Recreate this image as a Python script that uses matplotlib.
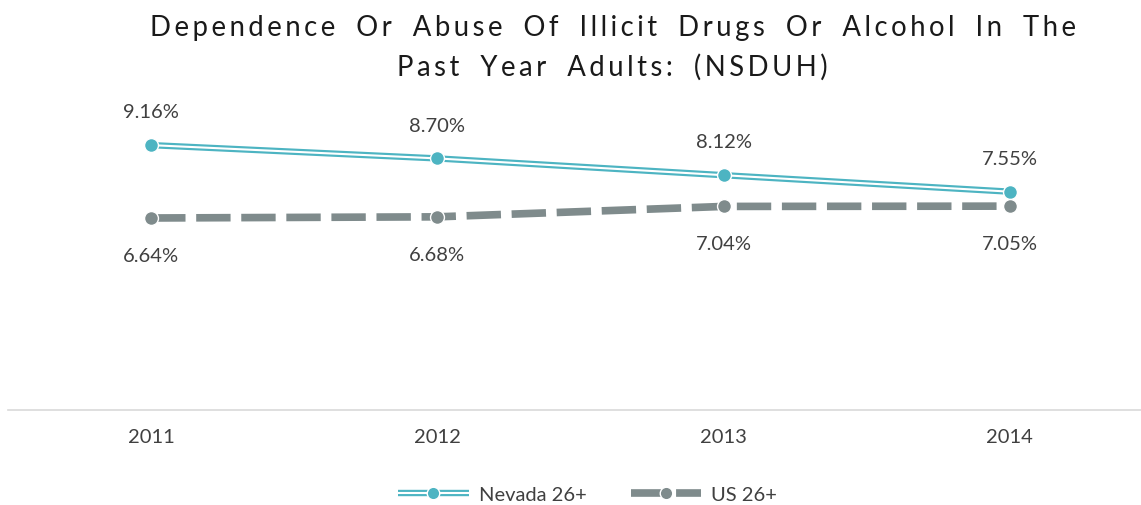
import matplotlib.pyplot as plt
from matplotlib.lines import Line2D

years = [2011, 2012, 2013, 2014]
nevada = [9.16, 8.70, 8.12, 7.55]
us = [6.64, 6.68, 7.04, 7.05]
series_names = ['Nevada 26+', 'US 26+']
title = 'Dependence Or Abuse Of Illicit Drugs Or Alcohol In The\nPast Year Adults: (NSDUH)'

teal = '#4DB4C2'
gray = '#7F8B8C'
txt = '#404040'

plt.rcParams['font.family'] = ['Lato', 'DejaVu Sans']

fig = plt.figure(figsize=(11.41, 5.06), dpi=100)
ax = fig.add_axes([8 / 1141, 95 / 506, 1133 / 1141, 347 / 506])

# double line for Nevada: thick teal with a white stripe in the middle
ax.plot(years, nevada, color=teal, lw=4.6, solid_capstyle='butt', zorder=3)
ax.plot(years, nevada, color='white', lw=1.5, solid_capstyle='butt', zorder=4)
ax.plot(years, nevada, 'o', color=teal, ms=10, mec='white', mew=1, zorder=5)

ax.plot(years, us, color=gray, lw=5.5, dashes=(4.5, 1.4), dash_capstyle='butt', zorder=2)
ax.plot(years, us, 'o', color=gray, ms=10, mec='white', mew=1, zorder=5)

for x, v in zip(years, nevada):
    ax.annotate(f'{v:.2f}%', (x, v), xytext=(0, 24), textcoords='offset points',
                ha='center', va='center', fontsize=14.5, color=txt)
for x, v in zip(years, us):
    ax.annotate(f'{v:.2f}%', (x, v), xytext=(0, -27), textcoords='offset points',
                ha='center', va='center', fontsize=14.5, color=txt)

ax.set_xlim(2010.5, 2014.458)
ax.set_ylim(0, 12)
ax.set_yticks([])
ax.set_xticks(years)
ax.set_xticklabels([str(y) for y in years], fontsize=14.5, color=txt)
ax.tick_params(axis='x', length=0, pad=13)
for s in ['top', 'right', 'left']:
    ax.spines[s].set_visible(False)
ax.spines['bottom'].set_color('#D9D9D9')
ax.spines['bottom'].set_linewidth(1.2)

spaced = '\n'.join('\u2009'.join(line).replace('\u2009 \u2009', '\u2009\u2009 \u2009\u2009')
                   for line in title.split('\n'))
fig.text(0.537, 0.905, spaced, ha='center', va='center', fontsize=19.8,
         color='#1a1a1a', linespacing=1.58)

h_nv = (Line2D([], [], color=teal, lw=4.6, solid_capstyle='butt'),
        Line2D([], [], color='white', lw=1.5),
        Line2D([], [], marker='o', color=teal, ms=9, mec='white', lw=0))
h_us = (Line2D([], [], color=gray, lw=5.5, dashes=(4.5, 1.4), dash_capstyle='butt'),
        Line2D([], [], marker='o', color=gray, ms=9, mec='white', lw=0))
fig.legend([h_nv, h_us], series_names, loc='center', bbox_to_anchor=(0.515, 0.02),
           ncol=2, frameon=False, fontsize=14.5, handlelength=3.5, columnspacing=2.2,
           labelcolor=txt, handletextpad=0.5)

fig.savefig('out.png', dpi=100)
